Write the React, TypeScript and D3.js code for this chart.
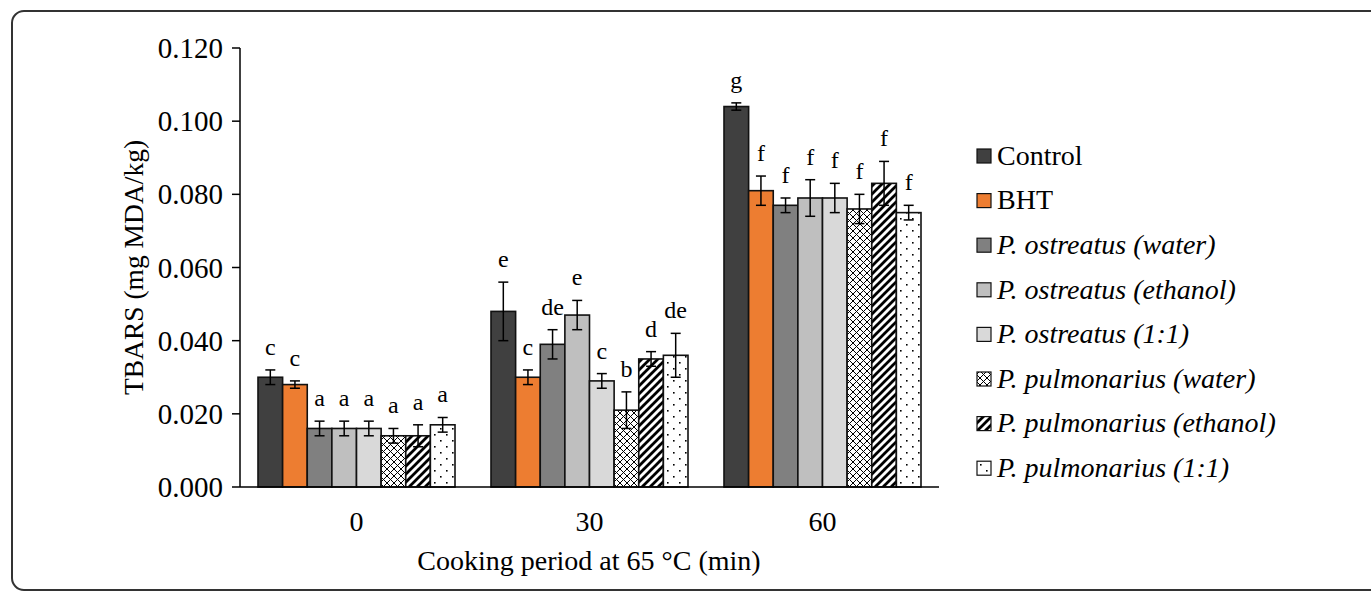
import React from 'react';
import * as d3 from 'd3';

const categories = ['0', '30', '60'];
const seriesNames = [
  'Control',
  'BHT',
  'P. ostreatus (water)',
  'P. ostreatus (ethanol)',
  'P. ostreatus (1:1)',
  'P. pulmonarius (water)',
  'P. pulmonarius (ethanol)',
  'P. pulmonarius (1:1)',
];
const seriesItalic = [false, false, true, true, true, true, true, true];

const controlValues = [0.030, 0.048, 0.104];
const bhtValues = [0.028, 0.030, 0.081];
const poWaterValues = [0.016, 0.039, 0.077];
const poEthanolValues = [0.016, 0.047, 0.079];
const poMixValues = [0.016, 0.029, 0.079];
const ppWaterValues = [0.014, 0.021, 0.076];
const ppEthanolValues = [0.014, 0.035, 0.083];
const ppMixValues = [0.017, 0.036, 0.075];

const controlErrors = [0.002, 0.008, 0.001];
const bhtErrors = [0.001, 0.002, 0.004];
const poWaterErrors = [0.002, 0.004, 0.002];
const poEthanolErrors = [0.002, 0.004, 0.005];
const poMixErrors = [0.002, 0.002, 0.004];
const ppWaterErrors = [0.002, 0.005, 0.004];
const ppEthanolErrors = [0.003, 0.002, 0.006];
const ppMixErrors = [0.002, 0.006, 0.002];

const controlLetters = ['c', 'e', 'g'];
const bhtLetters = ['c', 'c', 'f'];
const poWaterLetters = ['a', 'de', 'f'];
const poEthanolLetters = ['a', 'e', 'f'];
const poMixLetters = ['a', 'c', 'f'];
const ppWaterLetters = ['a', 'b', 'f'];
const ppEthanolLetters = ['a', 'd', 'f'];
const ppMixLetters = ['a', 'de', 'f'];

const yTicks = [0, 0.02, 0.04, 0.06, 0.08, 0.1, 0.12];
const yTitle = 'TBARS (mg MDA/kg)';
const xTitle = 'Cooking period at 65 °C (min)';

const allValues = [controlValues, bhtValues, poWaterValues, poEthanolValues, poMixValues, ppWaterValues, ppEthanolValues, ppMixValues];
const allErrors = [controlErrors, bhtErrors, poWaterErrors, poEthanolErrors, poMixErrors, ppWaterErrors, ppEthanolErrors, ppMixErrors];
const allLetters = [controlLetters, bhtLetters, poWaterLetters, poEthanolLetters, poMixLetters, ppWaterLetters, ppEthanolLetters, ppMixLetters];
const fills = ['#404040', '#ED7D31', '#808080', '#BFBFBF', '#D9D9D9', 'url(#crossHatch)', 'url(#diagStripe)', 'url(#dots)'];

const W = 1371;
const H = 594;
const FONT = 'Liberation Serif';

export default function App() {
  const x0 = d3.scaleBand<string>().domain(categories).range([240, 939]).paddingInner(0).paddingOuter(0);
  const groupPad = 18;
  const x1 = d3
    .scaleBand<number>()
    .domain(d3.range(seriesNames.length))
    .range([groupPad, x0.bandwidth() - groupPad])
    .padding(0);
  const y = d3.scaleLinear().domain([0, 0.12]).range([487, 48]);
  const fmt = d3.format('.3f');

  const legendX = 977;
  const legendY0 = 155;
  const legendStep = 44.6;

  return (
    <svg
      width={W}
      height={H}
      fontFamily={FONT}
      style={{ position: 'absolute', left: 0, top: 0, background: '#fff' }}
    >
      <defs>
        <pattern id="crossHatch" patternUnits="userSpaceOnUse" width={7} height={7}>
          <rect width={7} height={7} fill="#fff" />
          <path d="M0,0 L7,7 M7,0 L0,7" stroke="#000" strokeWidth={1} />
        </pattern>
        <pattern id="diagStripe" patternUnits="userSpaceOnUse" width={8} height={8}>
          <rect width={8} height={8} fill="#fff" />
          <path d="M-2,2 L2,-2 M0,8 L8,0 M6,10 L10,6" stroke="#000" strokeWidth={2.8} />
        </pattern>
        <pattern id="dots" patternUnits="userSpaceOnUse" width={12} height={12}>
          <rect width={12} height={12} fill="#fff" />
          <rect x={2} y={2} width={1.6} height={1.6} fill="#000" />
          <rect x={8} y={8} width={1.6} height={1.6} fill="#000" />
        </pattern>
      </defs>

      <rect x={12} y={11} width={1420} height={579} rx={12} ry={12} fill="none" stroke="#333" strokeWidth={2} />

      {/* bars */}
      {categories.map((cat, ci) => (
        <g key={cat} transform={`translate(${x0(cat)},0)`}>
          {seriesNames.map((s, si) => {
            const v = allValues[si][ci];
            const e = allErrors[si][ci];
            const bx = x1(si)!;
            const bw = x1.bandwidth();
            const cx = bx + bw / 2;
            return (
              <g key={s}>
                <rect x={bx} y={y(v)} width={bw} height={y(0) - y(v)} fill={fills[si]} stroke="#111" strokeWidth={1.6} />
                <line x1={cx} x2={cx} y1={y(v + e)} y2={y(v - e)} stroke="#000" strokeWidth={1.5} />
                <line x1={cx - 5} x2={cx + 5} y1={y(v + e)} y2={y(v + e)} stroke="#000" strokeWidth={1.5} />
                <line x1={cx - 5} x2={cx + 5} y1={y(v - e)} y2={y(v - e)} stroke="#000" strokeWidth={1.5} />
                <text x={cx} y={y(v + e) - 15} textAnchor="middle" fontSize={24} fontFamily={FONT} fill="#000">
                  {allLetters[si][ci]}
                </text>
              </g>
            );
          })}
        </g>
      ))}

      {/* y axis */}
      <line x1={240} x2={240} y1={y(0.12)} y2={y(0)} stroke="#000" strokeWidth={1.5} />
      {yTicks.map((t) => (
        <g key={t}>
          <line x1={232} x2={240} y1={y(t)} y2={y(t)} stroke="#000" strokeWidth={1.5} />
          <text x={223} y={y(t)} dy="0.35em" textAnchor="end" fontSize={29} fontFamily={FONT} fill="#000">
            {fmt(t)}
          </text>
        </g>
      ))}
      {/* x axis */}
      <line x1={240} x2={939} y1={y(0)} y2={y(0)} stroke="#000" strokeWidth={1.5} />
      {categories.map((cat) => (
        <text key={cat} x={x0(cat)! + x0.bandwidth() / 2} y={521} dy="0.35em" textAnchor="middle" fontSize={28} fontFamily={FONT} fill="#000">
          {cat}
        </text>
      ))}
      <text x={589} y={560} dy="0.35em" textAnchor="middle" fontSize={28} fontFamily={FONT} fill="#000">
        {xTitle}
      </text>
      <text
        transform={`translate(143,${(y(0) + y(0.12)) / 2}) rotate(-90)`}
        textAnchor="middle"
        fontSize={27.5}
        fontFamily={FONT}
        fill="#000"
      >
        {yTitle}
      </text>

      {/* legend */}
      {seriesNames.map((s, si) => {
        const cy = legendY0 + si * legendStep;
        return (
          <g key={s}>
            <rect x={legendX} y={cy - 6} width={14} height={14} fill={fills[si]} stroke="#111" strokeWidth={1.2} />
            <text
              x={legendX + 20}
              y={cy}
              dy="0.35em"
              fontSize={28}
              fontFamily={FONT}
              fontStyle={seriesItalic[si] ? 'italic' : 'normal'}
              fill="#000"
            >
              {s}
            </text>
          </g>
        );
      })}
    </svg>
  );
}
